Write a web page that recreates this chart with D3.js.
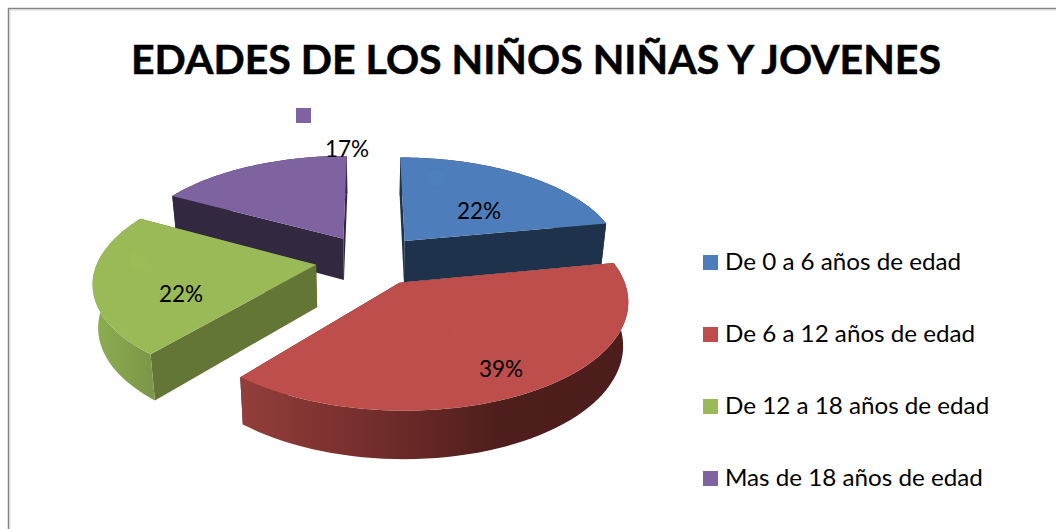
<!DOCTYPE html>
<html>
<head>
<meta charset="utf-8">
<script src="https://d3js.org/d3.v7.min.js"></script>
<style>
  html, body { margin: 0; padding: 0; background: #fff; }
  svg { display: block; }
  text { font-family: Lato, "Open Sans", sans-serif; fill: #000; }
</style>
</head>
<body>
<div id="chart"></div>
<script>
const categories = ["De 0 a 6 años de edad", "De 6 a 12 años de edad", "De 12 a 18 años de edad", "Mas de 18 años de edad"];
const values = [22, 39, 22, 17];
const titleText = "EDADES DE LOS NIÑOS NIÑAS Y JOVENES";

const topColors = ["#4d7ebb", "#bd4e4b", "#9ab957", "#7f62a0"];
const wallColors = ["#1f324c", "#4e1e1c", "#647636", "#322840"];
// outer rim shading, left to right
const rimColors = [
  ["#1f324c", "#1f324c"],
  ["#933e3b", "#742e2c", "#4e1e1c", "#4c1d1c"],
  ["#8fae52", "#7c9748"],
  ["#322840", "#322840"]
];

const width = 1056, height = 529;

// pie geometry, picked to fit the picture
const cx = 370.5, cy = 260;    // centre of the unexploded pie
const R = 218;                 // radius on the ground plane
const explode = 55;
const tilt = 0.464;            // ground plane squash
const persp = 0.15;            // near side bigger, far side smaller
const depth = 43;              // thickness
const drop = 0.02;             // bottom edge shrinks a bit

const labelPos = [[479, 219], [501, 377], [181, 302], [347, 157]];
const keyPos = [[436, 178], [457.5, 334.5], [137.5, 260.5], [303.5, 115.5]];
const legendStretch = 1.075;   // Lato runs narrower than the picture's font

const svg = d3.select("#chart").append("svg")
  .attr("width", width).attr("height", height);

svg.append("rect").attr("width", width).attr("height", height).attr("fill", "#fff");

// frame, only top and left are in the picture
svg.append("path")
  .attr("d", d3.line()([[8.5, height], [8.5, 8.5], [width, 8.5]]))
  .attr("fill", "none").attr("stroke", "#838383").attr("stroke-width", 1.5);
svg.append("path")
  .attr("d", d3.line()([[10, height], [10, 10], [width, 10]]))
  .attr("fill", "none").attr("stroke", "#d4d4d4").attr("stroke-width", 1);

svg.append("text")
  .attr("x", 536).attr("y", 74)
  .attr("text-anchor", "middle")
  .attr("font-size", 41).attr("font-weight", 700)
  .attr("stroke", "#000").attr("stroke-width", 0.5)
  .attr("textLength", 810).attr("lengthAdjust", "spacingAndGlyphs")
  .text(titleText);

const pie = d3.pie().sort(null).value(d => d)
  .startAngle(0).endAngle(2 * Math.PI);
const arcs = pie(values);

// ground plane (gx, gy) plus level (0 top, 1 bottom) to the screen
function project(gx, gy, level) {
  const s = (1 / (1 - persp * gy / R)) * (1 - drop * level);
  return [cx + gx * s, cy + (gy * tilt + depth * level) * s];
}

function slicePoints(a, level) {
  const mid = (a.startAngle + a.endAngle) / 2;
  const ox = explode * Math.sin(mid), oy = -explode * Math.cos(mid);
  const at = ang => project(ox + R * Math.sin(ang), oy - R * Math.cos(ang), level);
  const n = 60;
  const rim = d3.range(n + 1).map(i => at(a.startAngle + (a.endAngle - a.startAngle) * i / n));
  return { tip: project(ox, oy, level), rim };
}

const line = d3.line();
const defs = svg.append("defs");

// back to front: purple, blue, green, red
const order = [3, 0, 2, 1];

order.forEach(i => {
  const a = arcs[i];
  const top = slicePoints(a, 0), bot = slicePoints(a, 1);
  const g = svg.append("g").attr("class", "slice");

  const first = 0, last = top.rim.length - 1;
  [first, last].forEach(k => {
    g.append("path")
      .attr("d", line([top.tip, top.rim[k], bot.rim[k], bot.tip]) + "Z")
      .attr("fill", wallColors[i]);
  });

  const xs = top.rim.map(p => p[0]);
  const grad = defs.append("linearGradient")
    .attr("id", "rim" + i)
    .attr("gradientUnits", "userSpaceOnUse")
    .attr("x1", d3.min(xs)).attr("x2", d3.max(xs)).attr("y1", 0).attr("y2", 0);
  const stops = rimColors[i];
  stops.forEach((c, j) => {
    grad.append("stop").attr("offset", j / (stops.length - 1)).attr("stop-color", c);
  });

  g.append("path")
    .attr("d", line(top.rim.concat(bot.rim.slice().reverse())) + "Z")
    .attr("fill", "url(#rim" + i + ")");

  g.append("path")
    .attr("d", line([top.tip].concat(top.rim)) + "Z")
    .attr("fill", topColors[i]);

  // faint leftover keys sitting on the slices
  const k = keyPos[i];
  g.append("rect")
    .attr("x", k[0] - 7.5).attr("y", k[1] - 7.5).attr("width", 15).attr("height", 15)
    .attr("fill", topColors[i])
    .style("filter", i === 3 ? null : "brightness(1.015)");
});

// percent labels
svg.selectAll("text.pct").data(arcs).join("text")
  .attr("class", "pct")
  .attr("x", (d, i) => labelPos[i][0])
  .attr("y", (d, i) => labelPos[i][1])
  .attr("text-anchor", "middle")
  .attr("font-size", 22.5)
  .text(d => Math.round(d.data) + "%");

// legend
const legend = svg.selectAll("g.legend").data(categories).join("g")
  .attr("class", "legend")
  .attr("transform", (d, i) => `translate(703,${255 + i * 72})`);
legend.append("rect")
  .attr("width", 15).attr("height", 15)
  .attr("fill", (d, i) => topColors[i]);
legend.append("text")
  .attr("x", 22).attr("y", 15)
  .attr("font-size", 22.5)
  .text(d => d)
  .attr("textLength", function() { return this.getComputedTextLength() * legendStretch; })
  .attr("lengthAdjust", "spacingAndGlyphs");
</script>
</body>
</html>
